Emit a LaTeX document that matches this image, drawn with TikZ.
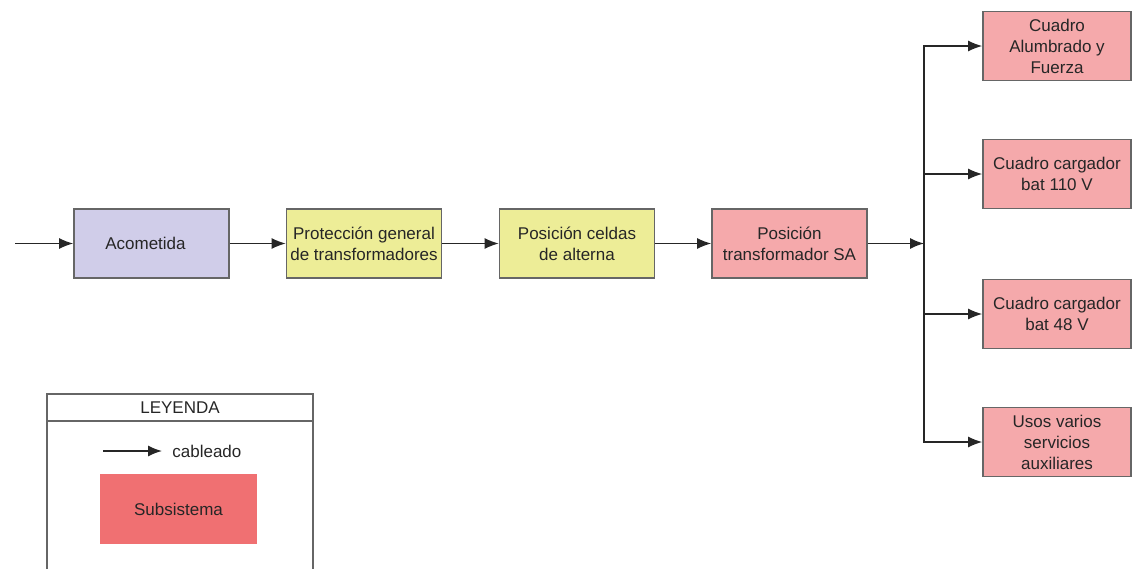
\documentclass[tikz,border=0pt]{standalone}
\usepackage{fontspec}
\setmainfont{Liberation Sans}
\usetikzlibrary{arrows.meta}

\definecolor{acomcol}{HTML}{D0CDE9}
\definecolor{protcol}{HTML}{EDED97}
\definecolor{subcol}{HTML}{F5A9AB}
\definecolor{legcol}{HTML}{F07072}

\begin{document}
\begin{tikzpicture}[x=0.5pt, y=-0.5pt,
	every node/.style={font=\fontsize{8.5}{10.5}\selectfont, text=black!85, align=center},
	block/.style={draw=black!60, line width=0.8pt, minimum width=77.5pt, minimum height=34.5pt, inner sep=1pt},
	side/.style={block, fill=subcol, minimum width=74pt},
	wire/.style={-{Latex[length=7pt,width=5.5pt]}, black!85, line width=0.7pt}]
			\useasboundingbox (0,0) rectangle (1132,569);
			% Nodes
			\node[block, fill=acomcol] (acom) at (151.5,243.5) {Acometida\hspace*{6pt}};
			\node[block, fill=protcol] (prot) at (364,243.5) {Protección general\\de transformadores};
			\node[block, fill=protcol] (celdas) at (577,243.5) {Posición celdas\\de alterna};
			\node[block, fill=subcol] (trafo) at (789.5,243.5) {Posición\\transformador SA};
			\node[side] (alf) at (1057,46) {Cuadro\\Alumbrado y\\Fuerza};
			\node[side] (bat110) at (1057,174) {Cuadro cargador\\bat 110 V};
			\node[side] (bat48) at (1057,314) {Cuadro cargador\\bat 48 V};
			\node[side] (usos) at (1057,442) {Usos varios\\servicios\\auxiliares};
			\coordinate (in) at (15,243.5);
			\coordinate (bus) at (924,243.5);
			% Edges
			\draw[wire] (in) -- (acom);
			\draw[wire] (acom) -- (prot);
			\draw[wire] (prot) -- (celdas);
			\draw[wire] (celdas) -- (trafo);
			\draw[wire] (trafo) -- (bus);
			\draw[wire] (bus) |- (alf.west);
			\draw[wire] (bus) |- (bat110.west);
			\draw[wire] (bus) |- (bat48.west);
			\draw[wire] (bus) |- (usos.west);
			% Legend
			\draw[black!60, line width=0.8pt] (47,569) |- (313,394) -- (313,569);
			\draw[black!60, line width=0.8pt] (47,421) -- (313,421);
			\node (ley) at (180,408) {LEYENDA};
			\coordinate (legin) at (103,451);
			\node[anchor=west, inner sep=0pt] (cable) at (172,451) {cableado};
			\draw[wire] (legin) -- (162,451);
			\node[fill=legcol, minimum width=78.5pt, minimum height=35pt] (subs) at (178.5,509) {Subsistema};
		\end{tikzpicture}
\end{document}
